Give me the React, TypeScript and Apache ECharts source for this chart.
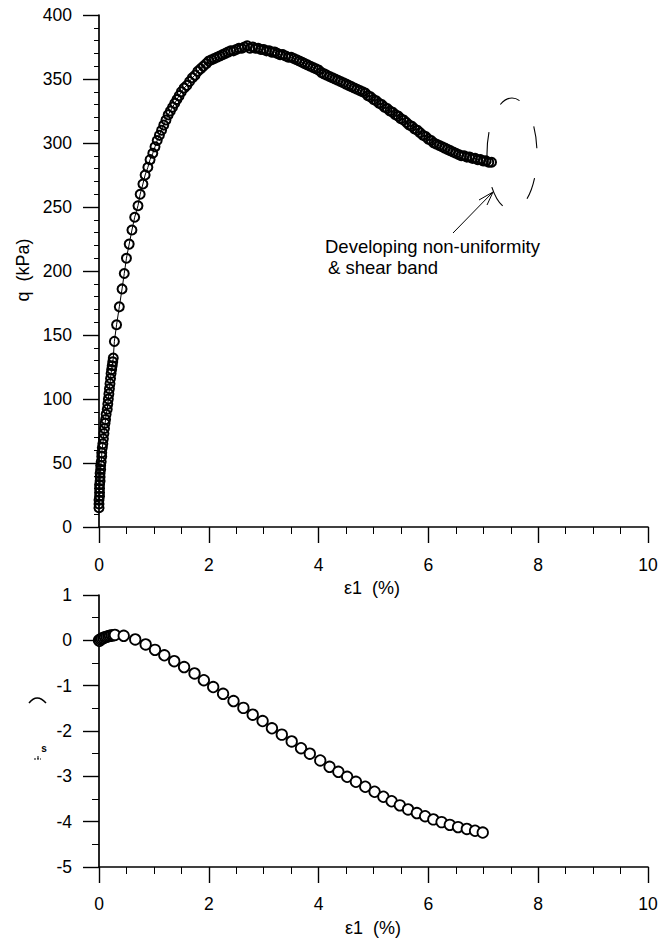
import React, { useEffect, useRef } from "react";
import * as echarts from "echarts";

// ---- Top chart: deviator stress q (kPa) vs axial strain ε1 (%) ----
const qStrain = [
  0.0, 0.0, 0.0, 0.01, 0.01, 0.01, 0.01, 0.02, 0.02, 0.02, 0.03, 0.03, 0.04, 0.05, 0.05, 0.06, 0.07, 0.08, 0.09, 0.1,
  0.11, 0.12, 0.13, 0.15, 0.16, 0.17, 0.18, 0.19, 0.2, 0.21, 0.22, 0.23, 0.24, 0.25, 0.26,
  0.28, 0.32, 0.37, 0.42, 0.46, 0.5, 0.55, 0.6, 0.65, 0.71, 0.75, 0.8, 0.84, 0.89, 0.93, 0.98,
  1.02, 1.06, 1.1, 1.14, 1.18, 1.22, 1.26, 1.3, 1.34, 1.38, 1.42, 1.46, 1.5, 1.55, 1.6, 1.65, 1.7, 1.75, 1.8, 1.85,
  1.9, 1.95, 2.0, 2.05, 2.1, 2.15, 2.2, 2.25, 2.3, 2.35, 2.4, 2.45, 2.5, 2.55, 2.6, 2.65, 2.7, 2.75, 2.8, 2.85,
  2.9, 2.95, 3.0, 3.05, 3.1, 3.15, 3.2, 3.25, 3.3, 3.35, 3.4, 3.45, 3.5, 3.55, 3.6, 3.65, 3.7, 3.75, 3.8, 3.85,
  3.9, 3.95, 4.0, 4.05, 4.1, 4.15, 4.2, 4.25, 4.3, 4.35, 4.4, 4.45, 4.5, 4.55, 4.6, 4.65, 4.7, 4.75, 4.8, 4.85,
  4.9, 4.95, 5.0, 5.05, 5.1, 5.15, 5.2, 5.25, 5.3, 5.35, 5.4, 5.45, 5.5, 5.55, 5.6, 5.65, 5.7, 5.75, 5.8, 5.85,
  5.9, 5.95, 6.0, 6.05, 6.1, 6.15, 6.2, 6.25, 6.3, 6.35, 6.4, 6.45, 6.5, 6.55, 6.6, 6.65, 6.7, 6.75, 6.8, 6.85,
  6.9, 6.95, 7.0, 7.05, 7.1, 7.15,
];
const qValues = [
  15, 18, 21, 24, 27, 30, 33, 36, 39, 42, 45, 48, 51, 55, 58, 62, 65, 69, 73, 77,
  81, 84, 88, 92, 96, 100, 104, 108, 112, 116, 120, 123, 126, 129, 132,
  145, 158, 172, 186, 198, 210, 221, 232, 242, 251, 260, 268, 275, 281, 287, 292,
  297, 302, 306, 310, 314, 318, 322, 325, 328, 331, 334, 337, 340, 343, 345, 348, 351, 353, 356, 358,
  360, 362, 364, 365, 366, 367, 368, 369, 370, 371, 372, 372, 373, 374, 374, 375, 376, 374, 375, 374,
  374, 373, 373, 372, 372, 371, 371, 370, 369, 369, 368, 367, 367, 366, 365, 364, 363, 362, 361, 360,
  359, 358, 357, 355, 354, 353, 352, 351, 350, 349, 348, 347, 346, 345, 344, 343, 342, 341, 340, 339,
  337, 336, 334, 333, 331, 330, 328, 327, 325, 324, 322, 321, 319, 318, 316, 314, 313, 311, 310, 308,
  306, 305, 303, 302, 300, 299, 298, 297, 296, 295, 294, 293, 292, 291, 290, 290, 289, 289, 288, 288,
  287, 287, 286, 286, 285, 285,
];

// ---- Bottom chart: volumetric strain vs axial strain ε1 (%) ----
const vStrain = [
  0.0, 0.01, 0.03, 0.05, 0.08, 0.11, 0.14, 0.17, 0.2, 0.23, 0.26, 0.29, 0.45, 0.66, 0.85, 1.02, 1.19, 1.37, 1.55, 1.74,
  1.91, 2.08, 2.26, 2.45, 2.63, 2.8, 2.98, 3.15, 3.33, 3.51, 3.68, 3.84, 4.03, 4.2, 4.36, 4.52, 4.68, 4.85, 5.02, 5.18,
  5.33, 5.48, 5.63, 5.79, 5.94, 6.09, 6.24, 6.39, 6.54, 6.7, 6.85, 6.99,
];
const vValues = [
  0.0, -0.01, 0.02, 0.04, 0.05, 0.07, 0.08, 0.09, 0.1, 0.11, 0.11, 0.12, 0.1, 0.02, -0.09, -0.21, -0.33, -0.46, -0.59, -0.73,
  -0.88, -1.03, -1.18, -1.34, -1.49, -1.64, -1.78, -1.94, -2.08, -2.23, -2.38, -2.5, -2.65, -2.79, -2.9, -3.01, -3.12, -3.23, -3.34, -3.45,
  -3.55, -3.64, -3.73, -3.81, -3.88, -3.95, -4.01, -4.07, -4.12, -4.16, -4.2, -4.24,
];

const topYTicks = { min: 0, max: 400, interval: 50 };
const bottomYTicks = { min: -5, max: 1, interval: 1 };
const xTicks = { min: 0, max: 10, interval: 2 };

const FONT = "'Liberation Sans', Arial, Helvetica, sans-serif";

export default function App() {
  const ref = useRef<HTMLDivElement>(null);

  useEffect(() => {
    if (!ref.current) return;
    const chart = echarts.init(ref.current, undefined, { renderer: "svg" });

    const axisLine = { show: true, onZero: false, lineStyle: { color: "#000", width: 1.7 } };
    const xAxisCommon = (gridIndex: number, margin: number) => ({
      type: "value",
      gridIndex,
      ...xTicks,
      axisLine,
      axisTick: { show: true, inside: false, length: 16, lineStyle: { color: "#000", width: 1.4 } },
      minorTick: { show: true, splitNumber: 4, length: 7, lineStyle: { color: "#000", width: 1 } },
      splitLine: { show: false },
      axisLabel: { color: "#000", fontFamily: FONT, fontSize: 17.5, margin },
    });

    const topData = qStrain.map((x, i) => [x, qValues[i]]);
    const bottomData = vStrain.map((x, i) => [x, vValues[i]]);

    chart.setOption({
      animation: false,
      backgroundColor: "#fff",
      grid: [
        { left: 99, right: 14, top: 15, height: 512 },
        { left: 99, right: 14, top: 595, height: 272 },
      ],
      xAxis: [xAxisCommon(0, 29), xAxisCommon(1, 28)],
      yAxis: [
        {
          type: "value",
          gridIndex: 0,
          ...topYTicks,
          axisLine,
          axisTick: { show: true, inside: false, length: 16, lineStyle: { color: "#000", width: 1.4 } },
          minorTick: { show: true, splitNumber: 5, length: 5, lineStyle: { color: "#000", width: 1 } },
          splitLine: { show: false },
          axisLabel: { color: "#000", fontFamily: FONT, fontSize: 17.5, margin: 27 },
        },
        {
          type: "value",
          gridIndex: 1,
          ...bottomYTicks,
          axisLine,
          axisTick: { show: true, inside: false, length: 16, lineStyle: { color: "#000", width: 1.4 } },
          minorTick: { show: true, splitNumber: 2, length: 7, lineStyle: { color: "#000", width: 1 } },
          splitLine: { show: false },
          axisLabel: { color: "#000", fontFamily: FONT, fontSize: 17.5, margin: 27 },
        },
      ],
      series: [
        {
          type: "line",
          xAxisIndex: 0,
          yAxisIndex: 0,
          data: topData,
          symbol: "circle",
          symbolSize: 9,
          showSymbol: true,
          itemStyle: { color: "rgba(255,255,255,0)", borderColor: "#000", borderWidth: 2 },
          lineStyle: { color: "#000", width: 1 },
          z: 3,
        },
        {
          type: "line",
          xAxisIndex: 1,
          yAxisIndex: 1,
          data: bottomData,
          symbol: "circle",
          symbolSize: 10.5,
          showSymbol: true,
          itemStyle: { color: "#fff", borderColor: "#000", borderWidth: 1.8 },
          lineStyle: { color: "#000", width: 1 },
          z: 3,
        },
      ],
      graphic: [
        {
          type: "text",
          x: 23,
          y: 270,
          rotation: Math.PI / 2,
          style: { text: "q  (kPa)", font: `18px ${FONT}`, fill: "#000", align: "center", verticalAlign: "middle" },
        },
        {
          type: "text",
          x: 372,
          y: 588,
          style: { text: "ε1  (%)", font: `18px ${FONT}`, fill: "#000", align: "center", verticalAlign: "middle" },
        },
        {
          type: "text",
          x: 373,
          y: 928,
          style: { text: "ε1  (%)", font: `18px ${FONT}`, fill: "#000", align: "center", verticalAlign: "middle" },
        },
        {
          type: "bezierCurve",
          shape: { x1: 29, y1: 703, cpx1: 37, cpy1: 693, x2: 46, y2: 703 },
          style: { stroke: "#000", lineWidth: 1.5, fill: null },
        },
        {
          type: "text",
          x: 44,
          y: 748,
          style: { text: "s", font: `bold 10px ${FONT}`, fill: "#000", align: "center", verticalAlign: "middle" },
        },
        {
          type: "line",
          shape: { x1: 34, y1: 759, x2: 41, y2: 759 },
          style: { stroke: "#000", lineWidth: 1.2, lineDash: [2, 1] },
        },
        {
          type: "line",
          shape: { x1: 38, y1: 756, x2: 38, y2: 759 },
          style: { stroke: "#000", lineWidth: 1 },
        },
        {
          type: "text",
          x: 325,
          y: 246,
          style: { text: "Developing non-uniformity", font: `18.5px ${FONT}`, fill: "#000", align: "left", verticalAlign: "middle" },
        },
        {
          type: "text",
          x: 328,
          y: 267,
          style: { text: "& shear band", font: `18.5px ${FONT}`, fill: "#000", align: "left", verticalAlign: "middle" },
        },
        {
          type: "line",
          shape: { x1: 453, y1: 233, x2: 492, y2: 193 },
          style: { stroke: "#000", lineWidth: 1 },
        },
        {
          type: "polyline",
          shape: { points: [[479, 200], [493, 192], [487, 205]] },
          style: { stroke: "#000", lineWidth: 1, fill: null },
        },
        {
          type: "ellipse",
          shape: { cx: 512, cy: 154, rx: 25, ry: 56 },
          style: { stroke: "#000", lineWidth: 1.1, fill: null, lineDash: [22, 30] },
        },
      ],
    });

    return () => chart.dispose();
  }, []);

  return (
    <div
      ref={ref}
      style={{ position: "absolute", left: 0, top: 0, width: 662, height: 943, background: "#fff" }}
    />
  );
}
